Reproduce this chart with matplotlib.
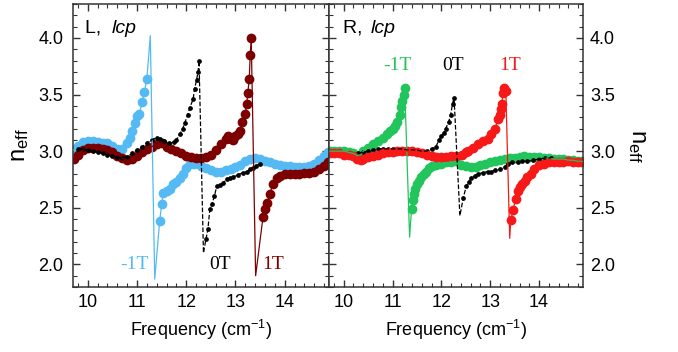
import numpy as np
import matplotlib.pyplot as plt
from matplotlib.ticker import MultipleLocator

plt.rcParams['font.family'] = ['Liberation Sans', 'DejaVu Sans']
plt.rcParams['mathtext.default'] = 'regular'

# ---- left panel (L, lcp) ----
# -1T
L_m1_f = [9.72, 9.8, 9.9, 10.0, 10.1, 10.2, 10.3, 10.4, 10.5, 10.6, 10.7, 10.8, 10.85, 10.9, 10.95,
          11.0, 11.05, 11.1, 11.15, 11.2,
          11.46, 11.5, 11.53, 11.6, 11.67, 11.73, 11.8, 11.87, 11.93, 12.0, 12.07, 12.15, 12.3, 12.4,
          12.5, 12.6, 12.7, 12.8, 12.9, 13.0, 13.1, 13.2, 13.3, 13.4, 13.5, 13.6, 13.7, 13.8, 13.9,
          14.0, 14.1, 14.2, 14.3, 14.4, 14.5, 14.6, 14.7, 14.8, 14.88]
L_m1_n = [3.01, 3.05, 3.08, 3.09, 3.09, 3.08, 3.07, 3.07, 3.05, 3.02, 3.02, 3.07, 3.12, 3.18, 3.25,
          3.31, 3.33, 3.43, 3.52, 3.64,
          2.38, 2.53, 2.63, 2.65, 2.67, 2.71, 2.73, 2.76, 2.8, 2.85, 2.89, 2.89, 2.87, 2.85,
          2.83, 2.82, 2.82, 2.83, 2.84, 2.86, 2.88, 2.91, 2.93, 2.94, 2.93, 2.91, 2.9, 2.89, 2.88,
          2.87, 2.87, 2.86, 2.86, 2.86, 2.87, 2.89, 2.92, 2.96, 2.99]
L_m1_tip_f = [11.27, 11.36]
L_m1_tip_n = [4.02, 1.87]

# 0T
L_0_f = [9.8, 9.9, 10.0, 10.1, 10.2, 10.3, 10.4, 10.5, 10.6, 10.7, 10.8, 10.9, 11.0, 11.1, 11.2,
         11.3, 11.4, 11.46, 11.55, 11.65, 11.75, 11.8, 11.87, 11.93, 11.97, 12.03, 12.07, 12.14,
         12.17, 12.21, 12.24, 12.26,
         12.4, 12.44, 12.48, 12.52, 12.57, 12.62, 12.68, 12.75, 12.82, 12.89, 12.95, 13.05, 13.15,
         13.23, 13.3, 13.35, 13.42, 13.5]
L_0_n = [3.02, 3.02, 3.01, 3.0, 2.99, 2.98, 2.97, 2.96, 2.95, 2.94, 2.95, 2.98, 3.01, 3.04, 3.07,
         3.1, 3.12, 3.11, 3.09, 3.07, 3.08, 3.1, 3.15, 3.2, 3.25, 3.32, 3.38, 3.46,
         3.55, 3.63, 3.7, 3.8,
         2.22, 2.31, 2.49, 2.53, 2.6, 2.69, 2.7, 2.72, 2.75, 2.76, 2.77, 2.79, 2.81,
         2.82, 2.84, 2.85, 2.87, 2.89]
L_0_tip_f = [12.35]
L_0_tip_n = [2.1]

# 1T
L_p1_f = [9.72, 9.8, 9.9, 10.0, 10.1, 10.2, 10.3, 10.4, 10.5, 10.6, 10.7, 10.8, 10.9, 11.0, 11.1,
          11.2, 11.3, 11.4, 11.5, 11.6, 11.7, 11.8, 11.9, 12.0, 12.1, 12.2, 12.3, 12.4, 12.5, 12.6,
          12.7, 12.8, 12.85, 12.9, 12.95, 13.0, 13.05, 13.1, 13.14, 13.2, 13.23, 13.25, 13.28, 13.3,
          13.32,
          13.56, 13.6, 13.64, 13.7, 13.76, 13.84, 13.9, 14.0, 14.1, 14.2, 14.3, 14.4, 14.5, 14.6,
          14.7, 14.8, 14.88]
L_p1_n = [2.93, 2.97, 3.01, 3.03, 3.03, 3.03, 3.02, 3.01, 2.99, 2.96, 2.94, 2.92, 2.93, 2.96, 2.99,
          3.02, 3.04, 3.06, 3.07, 3.04, 3.02, 3.0, 2.98, 2.96, 2.95, 2.94, 2.94, 2.95, 2.97, 3.01,
          3.06, 3.11, 3.13, 3.11, 3.1, 3.13, 3.15, 3.18, 3.26, 3.33, 3.42, 3.51, 3.64, 3.85,
          4.0,
          2.42, 2.49, 2.54, 2.62, 2.71, 2.76, 2.78, 2.8, 2.8, 2.8, 2.8, 2.81, 2.81, 2.82,
          2.84, 2.87, 2.9]
L_p1_tip_f = [13.41]
L_p1_tip_n = [1.9]

# ---- right panel (R, lcp) ----
# -1T
R_m1_f = [9.72, 9.8, 9.9, 10.0, 10.1, 10.2, 10.28, 10.35, 10.4, 10.5, 10.6, 10.7, 10.8, 10.88,
          10.95, 11.0, 11.05, 11.1, 11.15, 11.18, 11.2, 11.23, 11.25,
          11.39, 11.41, 11.43, 11.47, 11.51, 11.55, 11.59, 11.64, 11.69, 11.75, 11.81, 11.9, 12.0,
          12.1, 12.2, 12.29, 12.4, 12.5, 12.6, 12.7, 12.8, 12.9, 13.0, 13.1, 13.2, 13.3, 13.4,
          13.5, 13.6, 13.7, 13.8, 13.9, 14.0, 14.1, 14.2, 14.3, 14.4, 14.5, 14.6, 14.7, 14.8, 14.88]
R_m1_n = [3.0, 3.0, 3.0, 3.0, 2.99, 2.98, 2.96, 2.97, 3.0, 3.03, 3.06, 3.09, 3.12, 3.15,
          3.18, 3.2, 3.22, 3.26, 3.32, 3.39, 3.44, 3.5, 3.56,
          2.49, 2.57, 2.62, 2.67, 2.71, 2.74, 2.77, 2.8, 2.82, 2.85, 2.87, 2.88, 2.89,
          2.9, 2.9, 2.91, 2.88, 2.87, 2.86, 2.86, 2.88, 2.89, 2.9, 2.91, 2.92, 2.93, 2.94,
          2.94, 2.95, 2.96, 2.95, 2.95, 2.95, 2.94, 2.94, 2.93, 2.93, 2.93, 2.92, 2.92, 2.91, 2.91]
R_m1_tip_f = [11.35]
R_m1_tip_n = [2.24]

# 0T
R_0_f = [10.3, 10.4, 10.5, 10.6, 10.7, 10.8, 10.9, 11.0, 11.1, 11.2, 11.3, 11.4, 11.5, 11.6,
         11.7, 11.8, 11.89, 11.95, 12.0, 12.05, 12.09, 12.15, 12.19, 12.23, 12.26,
         12.45, 12.51, 12.56, 12.61, 12.68, 12.75, 12.85, 12.95, 13.02, 13.1, 13.2, 13.3, 13.36,
         13.45, 13.56, 13.66, 13.76, 13.88, 14.0, 14.12, 14.25]
R_0_n = [2.98, 2.99, 3.0, 3.01, 3.02, 3.02, 3.02, 3.02, 3.02, 3.02, 3.01, 3.01, 3.01, 3.0,
         3.0, 3.02, 3.04, 3.1, 3.13, 3.16, 3.2, 3.26, 3.32, 3.42, 3.47,
         2.59, 2.69, 2.73, 2.76, 2.78, 2.8, 2.81, 2.82, 2.82, 2.83, 2.84, 2.86, 2.89,
         2.9, 2.9, 2.91, 2.91, 2.92, 2.93, 2.94, 2.94]
R_0_tip_f = [12.38]
R_0_tip_n = [2.43]

# 1T
R_p1_f = [9.72, 9.8, 9.9, 10.0, 10.1, 10.2, 10.28, 10.35, 10.4, 10.5, 10.6, 10.7, 10.8, 10.9,
          11.0, 11.1, 11.2, 11.3, 11.4, 11.5, 11.6, 11.7, 11.8, 11.9, 12.0, 12.1, 12.2, 12.3, 12.42,
          12.5, 12.55, 12.65, 12.75, 12.85, 12.95, 13.02, 13.1, 13.16, 13.2, 13.22, 13.24, 13.26,
          13.29, 13.32,
          13.42, 13.47, 13.52, 13.56, 13.61, 13.66, 13.71, 13.76, 13.83, 13.9, 14.0, 14.1, 14.2,
          14.3, 14.4, 14.5, 14.6, 14.7, 14.8, 14.88]
R_p1_n = [2.98, 2.98, 2.98, 2.97, 2.97, 2.96, 2.93, 2.92, 2.93, 2.95, 2.96, 2.97, 2.98, 2.99,
          2.99, 3.0, 3.0, 3.0, 3.0, 2.99, 2.98, 2.97, 2.96, 2.95, 2.95, 2.95, 2.96, 2.96, 2.97,
          2.99, 3.0, 3.03, 3.06, 3.09, 3.11, 3.15, 3.2, 3.28, 3.32, 3.37, 3.42, 3.51,
          3.56, 3.53,
          2.39, 2.48, 2.58, 2.65, 2.68, 2.71, 2.74, 2.77, 2.8, 2.84, 2.88, 2.89, 2.9,
          2.9, 2.9, 2.9, 2.91, 2.9, 2.9, 2.9]
R_p1_tip_f = [13.4]
R_p1_tip_n = [2.23]

c_m1_L = '#55baf4'
c_p1_L = '#7d0000'
c_m1_R = '#22c55c'
c_p1_R = '#f71818'


def draw(ax, f, n, tip_f, tip_n, color, ms, ls='-', z=2):
    ax.plot(f, n, 'o', color=color, ms=ms, mec=color, zorder=z)
    lf = np.array(list(f) + list(tip_f))
    ln = np.array(list(n) + list(tip_n))
    order = np.argsort(lf)
    ax.plot(lf[order], ln[order], ls, color=color, lw=0.9, zorder=z + 3)


fig = plt.figure(figsize=(6.78, 3.52), dpi=100)
ax1 = fig.add_axes([73 / 678, 1 - 287 / 352, 256 / 678, 283 / 352])
ax2 = fig.add_axes([329 / 678, 1 - 287 / 352, 254 / 678, 283 / 352])

draw(ax1, L_m1_f, L_m1_n, L_m1_tip_f, L_m1_tip_n, c_m1_L, 6)
draw(ax1, L_p1_f, L_p1_n, L_p1_tip_f, L_p1_tip_n, c_p1_L, 6, z=2.1)
draw(ax1, L_0_f, L_0_n, L_0_tip_f, L_0_tip_n, 'black', 2.4, ls='--', z=2.2)

draw(ax2, R_m1_f, R_m1_n, R_m1_tip_f, R_m1_tip_n, c_m1_R, 6)
draw(ax2, R_0_f, R_0_n, R_0_tip_f, R_0_tip_n, 'black', 2.4, ls='--', z=2.1)
draw(ax2, R_p1_f, R_p1_n, R_p1_tip_f, R_p1_tip_n, c_p1_R, 6, z=2.2)

for ax in (ax1, ax2):
    ax.set_xlim(9.7, 14.9)
    ax.set_ylim(1.8, 4.3)
    ax.xaxis.set_major_locator(MultipleLocator(1))
    ax.xaxis.set_minor_locator(MultipleLocator(0.2))
    ax.yaxis.set_major_locator(MultipleLocator(0.5))
    ax.yaxis.set_minor_locator(MultipleLocator(0.1))
    ax.tick_params(which='both', direction='in', top=True, bottom=True, left=True, right=True,
                   color='#333333', labelsize=13)
    ax.tick_params(which='major', length=5, width=1)
    ax.tick_params(which='minor', length=3, width=0.8)
    ax.tick_params(axis='x', pad=5)
    for s in ax.spines.values():
        s.set_color('#333333')
        s.set_linewidth(1.1)
    ax.set_xlabel('Frequency (cm$^{-1}$)', fontsize=13, labelpad=5)

ax1.tick_params(axis='y', pad=7)
ax2.tick_params(axis='y', labelleft=False, labelright=True, pad=5)

ax1.set_ylabel('n$_{eff}$', fontsize=17, labelpad=5)
ax2.yaxis.set_label_position('right')
ax2.set_ylabel('n$_{eff}$', fontsize=17, rotation=-90, labelpad=24)

ax1.text(0.047, 0.915, 'L, ', transform=ax1.transAxes, fontsize=14, va='center')
ax1.text(0.15, 0.915, 'lcp', transform=ax1.transAxes, fontsize=14, va='center', style='italic')
ax2.text(0.055, 0.915, 'R, ', transform=ax2.transAxes, fontsize=14, va='center')
ax2.text(0.165, 0.915, 'lcp', transform=ax2.transAxes, fontsize=14, va='center', style='italic')

serif = 'Liberation Serif'
ax1.text(10.94, 2.0, '-1T', color=c_m1_L, fontsize=14, family=serif, ha='center', va='center')
ax1.text(12.68, 2.0, '0T', color='black', fontsize=14, family=serif, ha='center', va='center')
ax1.text(13.76, 2.0, '1T', color=c_p1_L, fontsize=14, family=serif, ha='center', va='center')
ax2.text(11.1, 3.76, '-1T', color=c_m1_R, fontsize=14, family=serif, ha='center', va='center')
ax2.text(12.23, 3.76, '0T', color='black', fontsize=14, family=serif, ha='center', va='center')
ax2.text(13.4, 3.76, '1T', color=c_p1_R, fontsize=14, family=serif, ha='center', va='center')

fig.savefig('out.png', dpi=100)
